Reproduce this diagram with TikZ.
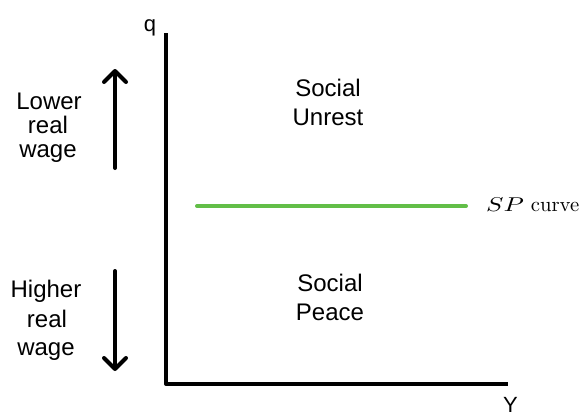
\documentclass[tikz,border=0pt]{standalone}
\usepackage{fontspec}
\setmainfont{Liberation Sans}
\newfontfamily\lmfont{lmroman10-regular}[Extension=.otf]
\usetikzlibrary{arrows.meta}
\definecolor{spgreen}{RGB}{98,190,72}
\tikzset{
  lbl/.style={font=\fontsize{24}{29}\selectfont, inner sep=0pt, anchor=base},
  axislbl/.style={font=\fontsize{22}{26}\selectfont, inner sep=0pt, anchor=base},
  axisline/.style={line width=4pt, line join=round},
  dirarrow/.style={line width=4pt, line cap=round, -{Straight Barb[length=11pt,width=22pt,round]}},
  spline/.style={line width=4pt, line cap=round, spgreen},
}
\begin{document}
\begin{tikzpicture}[x=1pt,y=-1pt]
\useasboundingbox (0,0) rectangle (580,416);
% axes
\coordinate (qtop) at (166,33);
\coordinate (origin) at (166,384);
\coordinate (yend) at (508,384);
\draw[axisline] (qtop) -- (origin) -- (yend);
\node[axislbl] (qlab) at (150,31) {q};
\node[axislbl] (ylab) at (510.5,412.5) {Y};
% SP curve
\coordinate (spa) at (197,206);
\coordinate (spb) at (466,206);
\draw[spline] (spa) -- (spb);
\node[inner sep=0pt, anchor=base west, font={\lmfont\fontsize{20.7}{25}\selectfont}] (splab) at (486,211) {\scalebox{2.6}[2.0]{\fontsize{10}{12}\selectfont$SP$}\ curve};
% region labels
\node[lbl] (su1) at (328,96) {Social};
\node[lbl] (su2) at (328,125) {Unrest};
\node[lbl] (sp1) at (330,291) {Social};
\node[lbl] (sp2) at (330,320) {Peace};
% left labels
\node[lbl] (lw1) at (49,109) {Lower};
\node[lbl] (lw2) at (48,133) {real};
\node[lbl] (lw3) at (48,157) {wage};
\node[lbl] (hw1) at (46,297) {Higher};
\node[lbl] (hw2) at (47,327) {real};
\node[lbl] (hw3) at (46,355) {wage};
% arrows
\coordinate (ua) at (115,168);
\coordinate (ub) at (115,69);
\coordinate (da) at (115,271);
\coordinate (db) at (115,371);
\draw[dirarrow] (ua) -- (ub);
\draw[dirarrow] (da) -- (db);
\end{tikzpicture}
\end{document}
